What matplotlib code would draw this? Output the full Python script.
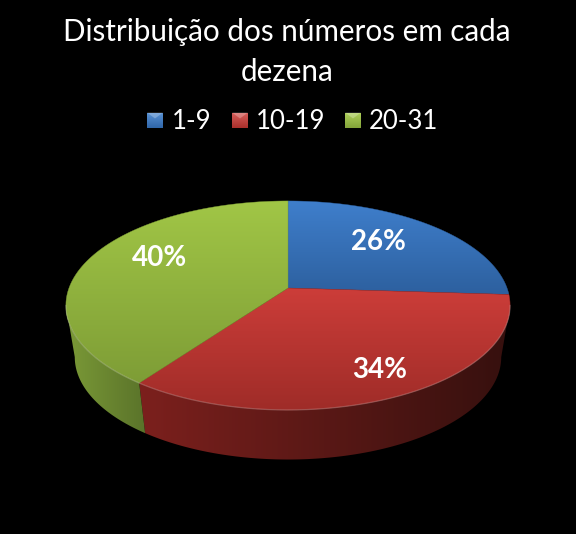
import numpy as np
import matplotlib
matplotlib.use("Agg")
import matplotlib.pyplot as plt
from matplotlib.colors import LinearSegmentedColormap
from matplotlib.patches import PathPatch, Polygon
from matplotlib.path import Path

plt.rcParams['font.family'] = ['Lato', 'DejaVu Sans']

# data
title = "Distribuição dos números em cada\ndezena"
categories = ["1-9", "10-19", "20-31"]
values = [26, 34, 40]

# colours: top face (back, front), side face (left, right), legend
top_colors = [("#3f7fcc", "#2d609f"), ("#cc3d39", "#9f2c28"), ("#a1c646", "#7e9d36")]
side_colors = [("#3a5f8e", "#1c3350"), ("#7c201d", "#36100e"), ("#7b9a37", "#5a732a")]
legend_colors = [("#5b93d6", "#2f66a8"), ("#d9605c", "#a82f2b"), ("#b0d25c", "#83a339")]

# pie geometry in pixels, with a bit of perspective
CX, CY = 288, 288
RX, RY = 219, 101.6
PERSP = 0.167
DEPTH = 52
SHRINK_X, SHRINK_Y = 0.96, 0.98


def project(theta, lower=False):
    # theta is clockwise from 12 o'clock
    u, v = np.sin(theta), -np.cos(theta)
    s = 1 / (1 - PERSP * v)
    if lower:
        return CX + SHRINK_X * RX * u * s, CY + DEPTH + SHRINK_Y * RY * v * s
    return CX + RX * u * s, CY + RY * v * s


def gradient(ax, verts, colors, extent, vertical=True, zorder=1):
    cmap = LinearSegmentedColormap.from_list("g", colors)
    ramp = np.linspace(0, 1, 256)
    ramp = ramp[:, None] if vertical else ramp[None, :]
    im = ax.imshow(ramp, cmap=cmap, extent=extent, aspect="auto", origin="upper",
                   vmin=0, vmax=1, zorder=zorder, interpolation="bilinear")
    path = Path(np.vstack([verts, verts[0]]), closed=True)
    patch = PathPatch(path, transform=ax.transData, fc="none", ec="none")
    ax.add_patch(patch)
    im.set_clip_path(patch)


fig = plt.figure(figsize=(5.76, 5.34), dpi=100, facecolor="black")
ax = fig.add_axes([0, 0, 1, 1])
ax.set_facecolor("black")
ax.axis("off")

edges = np.cumsum([0] + values) / sum(values) * 2 * np.pi
# only the front of the wall can be seen, stop at the silhouette
front_a = np.arccos(-PERSP)
front_b = 2 * np.pi - front_a

for i in range(len(values)):
    a, b = max(edges[i], front_a), min(edges[i + 1], front_b)
    if a >= b:
        continue
    t = np.linspace(a, b, 200)
    x, y = project(t)
    xl, yl = project(t, lower=True)

    # side wall, shaded left to right
    side = np.vstack([np.c_[x, y], np.c_[xl, yl][::-1]])
    x0, x1 = side[:, 0].min(), side[:, 0].max()
    y0, y1 = side[:, 1].min(), side[:, 1].max()
    gradient(ax, side, list(side_colors[i]), (x0, x1, y1, y0), vertical=False, zorder=1)

for i in range(len(values)):
    t = np.linspace(edges[i], edges[i + 1], 200)
    x, y = project(t)
    face = np.vstack([[CX, CY], np.c_[x, y]])
    extent = (face[:, 0].min(), face[:, 0].max(), face[:, 1].max(), face[:, 1].min())
    gradient(ax, face, list(top_colors[i]), extent, zorder=2)
    # small seam so that slices do not show black gaps
    ax.add_patch(Polygon(face, closed=True, fc="none", ec=top_colors[i][1], lw=0.3, zorder=2))

# light rim on the front of the top face
t = np.linspace(front_a, front_b, 300)
x, y = project(t)
ax.plot(x, y, color="#ffffff", alpha=0.22, lw=0.9, zorder=3)

# data labels
label_r = [0.63, 0.83, 0.65]
label_dy = [-7, -8, -11]
for i, v in enumerate(values):
    mid = (edges[i] + edges[i + 1]) / 2
    u, w = np.sin(mid), -np.cos(mid)
    s = 1 / (1 - PERSP * w)
    ax.text(CX + RX * u * s * label_r[i], CY + RY * w * s * label_r[i] + label_dy[i], f"{v}%",
            color="white", fontsize=20, fontweight="bold", ha="center", va="center", zorder=4)

# title
ax.text(287, 52, title, color="white", fontsize=21.3, ha="center", va="center", linespacing=1.5)

# legend
legend_box_x = [147, 232, 345]
legend_text_x = [172, 256, 369]
LEG_Y = 120.5
for i, name in enumerate(categories):
    bx = legend_box_x[i]
    box = np.array([[bx, LEG_Y - 8], [bx + 16, LEG_Y - 8], [bx + 16, LEG_Y + 8], [bx, LEG_Y + 8]])
    gradient(ax, box, list(legend_colors[i]), (bx, bx + 16, LEG_Y + 8, LEG_Y - 8), zorder=2)
    ax.add_patch(Polygon([[bx, LEG_Y - 8], [bx + 16, LEG_Y - 8], [bx + 8, LEG_Y - 2]],
                         closed=True, fc="white", ec="none", alpha=0.25, zorder=3))
    ax.text(legend_text_x[i], LEG_Y + 1, name, color="white", fontsize=18.5, ha="left", va="center")

ax.set_xlim(0, 576)
ax.set_ylim(534, 0)

fig.savefig("out.png", dpi=100, facecolor="black")
